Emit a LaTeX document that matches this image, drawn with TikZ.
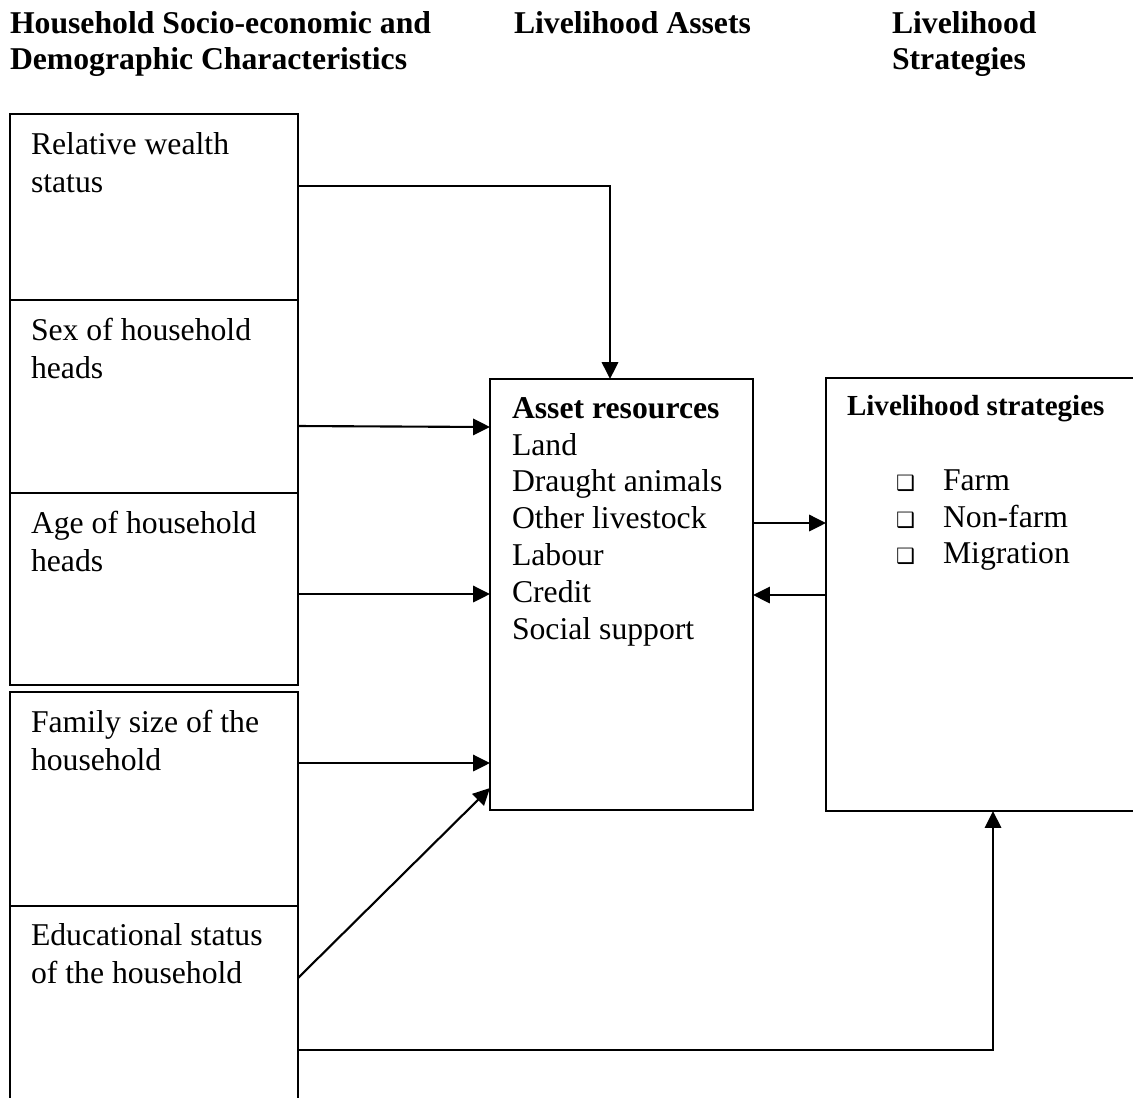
\documentclass[tikz,border=0pt]{standalone}
\usepackage{fontspec}
\setmainfont{Liberation Serif}
\newfontfamily\symfont{DejaVu Sans}
\usetikzlibrary{arrows.meta}
\newcommand{\mylines}[1]{\begin{tabular}[t]{@{}l@{}}#1\end{tabular}}
\newcommand{\mybul}{{\symfont\fontsize{8}{8}\selectfont ❑}}
\def\pxu{0.3785pt}
\begin{document}
\begin{tikzpicture}[x=0.3785pt, y=-0.3785pt, line width=0.8pt,
  bx/.style n args={2}{draw, inner sep=0pt, outer sep=0pt, minimum width=#1*\pxu, minimum height=#2*\pxu},
  txt/.style={inner sep=0pt, outer sep=0pt, anchor=base west, font=\fontsize{12}{14.4}\selectfont},
  hdr/.style={inner sep=0pt, outer sep=0pt, anchor=base west, font=\bfseries\fontsize{12}{13.8}\selectfont},
  arr/.style={-{Triangle[length=6.4pt,width=6.2pt]}}]
\useasboundingbox (0,0) rectangle (1133,1097);
\clip (0,0) rectangle (1133,1097);
% headers
\node[hdr] (h1) at (10,33) {\mylines{Household Socio-economic and\\Demographic Characteristics}};
\node[hdr] (h2) at (514,33) {Livelihood Assets};
\node[hdr] (h3) at (892,33) {\mylines{Livelihood\\Strategies}};
% left boxes
\node[bx={288}{186}] (b1) at (154,207) {};
\node[bx={288}{193}] (b2) at (154,396.5) {};
\node[bx={288}{192}] (b3) at (154,589) {};
\node[bx={288}{214}] (b4) at (154,799) {};
\node[bx={288}{224}] (b5) at (154,1018) {};
\node[txt] (t1) at (31,154) {\mylines{Relative wealth\\status}};
\node[txt] (t2) at (31,340) {\mylines{Sex of household\\heads}};
\node[txt] (t3) at (31,533) {\mylines{Age of household\\heads}};
\node[txt] (t4) at (31,732) {\mylines{Family size of the\\household}};
\node[txt] (t5) at (31,945) {\mylines{Educational status\\of the household}};
% asset box
\node[bx={263}{431}] (asset) at (621.5,594.5) {};
\node[txt, font=\fontsize{12}{14}\selectfont] (ta) at (512,418) {\mylines{\textbf{Asset resources}\\Land\\Draught animals\\Other livestock\\Labour\\Credit\\Social support}};
% strategies box
\node[bx={334}{433}] (strat) at (993,594.5) {};
\node[txt, font=\bfseries\fontsize{11}{13}\selectfont] (ts) at (847,415) {Livelihood strategies};
\node[txt, font=\fontsize{12}{14}\selectfont] (tl) at (896,490) {\begin{tabular}[t]{@{}p{17.8pt}@{}l@{}}\mybul & Farm\\ \mybul & Non-farm\\ \mybul & Migration\end{tabular}};
% connectors
\draw[arr] (b1.east |- 0,186) -| (asset.north -| 610,0);
\draw[arr] (b2.east |- 0,426) -- (asset.west |- 0,427);
\draw[arr] (b3.east |- 0,594) -- (asset.west |- 0,594);
\draw[arr] (asset.east |- 0,523) -- (strat.west |- 0,523);
\draw[arr] (strat.west |- 0,595) -- (asset.east |- 0,595);
\draw[arr] (b4.east |- 0,763) -- (asset.west |- 0,763);
\draw[arr] (b5.east |- 0,978) -- (asset.west |- 0,788);
\draw[arr] (b5.east |- 0,1050) -| (strat.south -| 993,0);
\end{tikzpicture}
\end{document}
